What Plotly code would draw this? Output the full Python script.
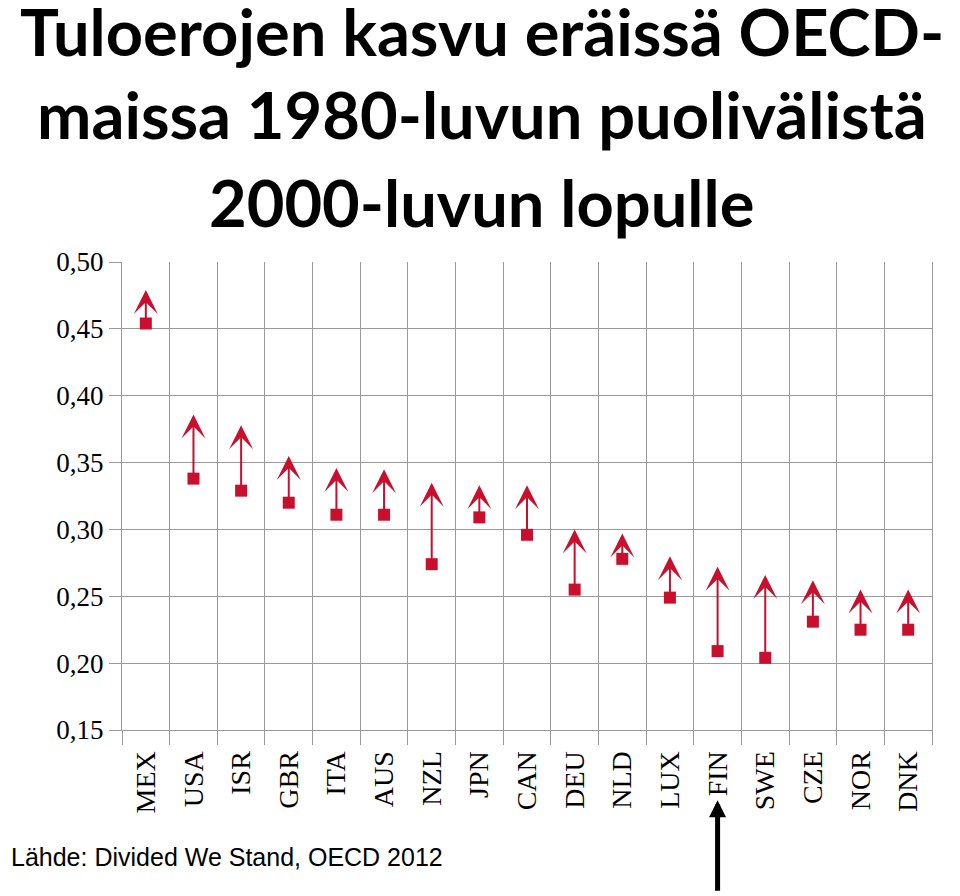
import plotly.graph_objects as go

countries = ["MEX", "USA", "ISR", "GBR", "ITA", "AUS", "NZL", "JPN", "CAN",
             "DEU", "NLD", "LUX", "FIN", "SWE", "CZE", "NOR", "DNK"]
gini_mid80s = [0.454, 0.338, 0.329, 0.320, 0.311, 0.311, 0.274, 0.309, 0.296,
               0.255, 0.278, 0.249, 0.209, 0.204, 0.231, 0.225, 0.225]
gini_late00s = [0.479, 0.386, 0.378, 0.355, 0.346, 0.345, 0.335, 0.333, 0.333,
                0.300, 0.297, 0.280, 0.272, 0.266, 0.262, 0.255, 0.255]
y_ticks = [0.15, 0.20, 0.25, 0.30, 0.35, 0.40, 0.45, 0.50]

title_lines = ["Tuloerojen kasvu eräissä OECD-",
               "maissa 1980-luvun puolivälistä",
               "2000-luvun lopulle"]
source = "Lähde: Divided We Stand, OECD 2012"
highlight = "FIN"

RED = "#C8102E"
GRID = "#9a9a9a"
SERIF = "Liberation Serif, Times New Roman, serif"

idx = list(range(len(countries)))

fig = go.Figure()
fig.add_trace(go.Scatter(
    x=idx, y=gini_mid80s, mode="markers",
    marker=dict(symbol="square", size=12, color=RED),
    hoverinfo="skip", showlegend=False,
))

# arrows from mid-80s value up to late-2000s value
for i, (a, b) in enumerate(zip(gini_mid80s, gini_late00s)):
    fig.add_annotation(
        x=i, y=b, ax=i, ay=a, xref="x", yref="y", axref="x", ayref="y",
        text="", showarrow=True, arrowhead=3, arrowsize=2, arrowwidth=2,
        arrowcolor=RED,
    )

# title, three centred lines
for line, ypos in zip(title_lines, [1.4935, 1.3162, 1.1282]):
    fig.add_annotation(
        text="<b>" + line + "</b>", x=0.444, y=ypos, xref="paper", yref="paper",
        xanchor="center", yanchor="middle", showarrow=False,
        font=dict(family="Lato", size=65, color="black"),
    )

fig.add_annotation(
    text=source, x=-0.1395, y=-0.271, xref="paper", yref="paper",
    xanchor="left", yanchor="middle", showarrow=False,
    font=dict(family="Liberation Sans, Arial", size=25, color="black"),
)

# black arrow pointing at Finland
fig.add_annotation(
    x=countries.index(highlight), y=-0.150, xref="x", yref="paper",
    ax=0, ay=92, text="", showarrow=True, arrowhead=2, arrowsize=0.68,
    arrowwidth=5, arrowcolor="black",
)

fig.update_xaxes(
    range=[-0.5, len(countries) - 0.5],
    tickmode="array", tickvals=idx, ticktext=countries, tickangle=-90,
    ticks="outside", ticklen=9, tickcolor="rgba(0,0,0,0)",
    tickfont=dict(family=SERIF, size=28, color="black"),
    showgrid=False, zeroline=False,
    showline=True, linecolor=GRID, linewidth=1,
    minor=dict(tickmode="array", tickvals=[i - 0.5 for i in range(len(countries) + 1)],
               ticks="outside", ticklen=14, tickcolor=GRID,
               showgrid=True, gridcolor=GRID, gridwidth=1),
)
fig.update_yaxes(
    range=[0.15, 0.50], tickmode="array", tickvals=y_ticks, tickformat=".2f",
    ticks="outside", ticklen=12, tickcolor=GRID,
    tickfont=dict(family=SERIF, size=27, color="black"),
    showgrid=True, gridcolor=GRID, gridwidth=1, zeroline=False,
    showline=True, linecolor=GRID, linewidth=1, mirror=True,
)
fig.update_layout(
    width=952, height=888,
    margin=dict(l=114, r=28, t=254, b=166),
    paper_bgcolor="white", plot_bgcolor="white",
    separators=",.",
    showlegend=False,
)

fig.write_html("out.html")
